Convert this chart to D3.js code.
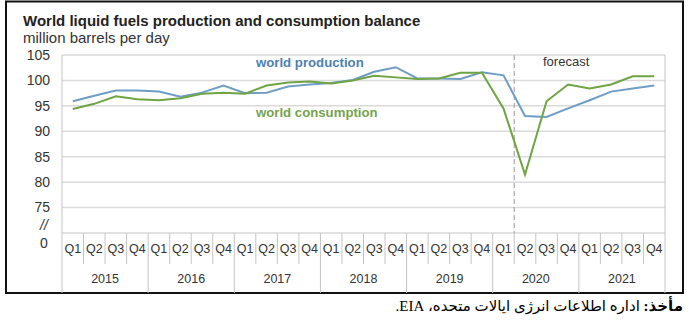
<!DOCTYPE html>
<html>
<head>
<meta charset="utf-8">
<script src="https://cdn.jsdelivr.net/npm/d3@7"></script>
<style>
  body { margin: 0; background: #fff; }
  svg { display: block; font-family: "Liberation Sans", Arial, sans-serif; }
  .grid line { stroke: #dadada; stroke-width: 1.5; }
  .tbl { stroke: #c4c4c4; stroke-width: 1; }
  .tick-label { fill: #333; font-size: 14px; }
  .cat-label { fill: #333; font-size: 12.5px; }
</style>
</head>
<body>
<div id="chart"></div>
<script>
// --- World liquid fuels production and consumption balance (EIA) ---

const years = ['2015', '2016', '2017', '2018', '2019', '2020', '2021'];
const quarters = ['Q1', 'Q2', 'Q3', 'Q4'];
const yTicks = [75, 80, 85, 90, 95, 100, 105];
const forecastStart = '2020 Q2';

// million barrels per day, one value per quarter 2015Q1..2021Q4
const production = [
  95.9, 97.0, 98.0, 98.0,
  97.8, 96.8, 97.6, 99.0,
  97.5, 97.6, 98.8, 99.2,
  99.5, 100.1, 101.7, 102.6,
  100.4, 100.4, 100.3, 101.6,
  101.0, 93.0, 92.8, 94.5,
  96.1, 97.8, 98.4, 99.0
];
const consumption = [
  94.4, 95.4, 96.9, 96.3,
  96.1, 96.5, 97.4, 97.6,
  97.4, 99.0, 99.6, 99.8,
  99.4, 100.0, 100.9, 100.6,
  100.3, 100.4, 101.5, 101.5,
  94.5, 81.5, 95.9, 99.2,
  98.4, 99.2, 100.8, 100.8
];

const W = 689, H = 324;
const plot = { left: 62, right: 665, top: 55, bottom: 233 };
const qRowBottom = 264, yearRowBottom = 293;

const keys = [];
years.forEach(y => quarters.forEach(q => keys.push(`${y} ${q}`)));

const svg = d3.select('#chart').append('svg')
  .attr('width', W)
  .attr('height', H);

svg.append('rect')
  .attr('width', W).attr('height', H).attr('fill', '#fff');

// outer frame
svg.append('rect')
  .attr('x', 6).attr('y', 1.5)
  .attr('width', 677).attr('height', yearRowBottom - 1.5)
  .attr('fill', 'none')
  .attr('stroke', '#111')
  .attr('stroke-width', 2);

const xScale = d3.scaleBand().domain(keys).range([plot.left, plot.right]).padding(0);
const xMid = k => xScale(k) + xScale.bandwidth() / 2;
const yScale = d3.scaleLinear().domain([70, 105]).range([plot.bottom, plot.top]);

// gridlines
svg.append('g').attr('class', 'grid')
  .selectAll('line').data(yTicks).join('line')
  .attr('x1', plot.left).attr('x2', plot.right)
  .attr('y1', d => yScale(d)).attr('y2', d => yScale(d));

// plot side borders
svg.append('line').attr('class', 'tbl')
  .attr('x1', plot.left).attr('x2', plot.left)
  .attr('y1', yScale(105)).attr('y2', yearRowBottom);
svg.append('line').attr('class', 'tbl')
  .attr('x1', plot.right).attr('x2', plot.right)
  .attr('y1', yScale(105)).attr('y2', yearRowBottom);

// y tick labels
svg.append('g').selectAll('text').data(yTicks).join('text')
  .attr('class', 'tick-label')
  .attr('x', 50).attr('y', d => yScale(d))
  .attr('dy', '0.35em')
  .attr('text-anchor', 'end')
  .text(d => d);

// axis break + zero
svg.append('text').attr('class', 'tick-label')
  .attr('x', 44).attr('y', yScale(70) - 8).attr('dy', '0.35em')
  .attr('text-anchor', 'middle').attr('font-style', 'italic').attr('font-size', 12)
  .text('//');
svg.append('text').attr('class', 'tick-label')
  .attr('x', 44).attr('y', yScale(70) + 10).attr('dy', '0.35em')
  .attr('text-anchor', 'middle')
  .text('0');

// category table
svg.append('line').attr('class', 'tbl')
  .attr('x1', plot.left).attr('x2', plot.right)
  .attr('y1', plot.bottom).attr('y2', plot.bottom);

svg.append('g').selectAll('line').data(keys.slice(1)).join('line')
  .attr('class', 'tbl')
  .attr('x1', d => xScale(d)).attr('x2', d => xScale(d))
  .attr('y1', plot.bottom)
  .attr('y2', d => d.endsWith('Q1') ? yearRowBottom : qRowBottom);

svg.append('g').selectAll('text').data(keys).join('text')
  .attr('class', 'cat-label')
  .attr('x', d => xMid(d)).attr('y', (plot.bottom + qRowBottom) / 2)
  .attr('dy', '0.35em')
  .attr('text-anchor', 'middle')
  .text(d => d.split(' ')[1]);

svg.append('g').selectAll('text').data(years).join('text')
  .attr('class', 'cat-label')
  .attr('font-size', 13)
  .attr('x', y => (xScale(`${y} Q1`) + xScale(`${y} Q4`) + xScale.bandwidth()) / 2)
  .attr('y', (qRowBottom + yearRowBottom) / 2)
  .attr('dy', '0.35em')
  .attr('text-anchor', 'middle')
  .text(y => y);

// forecast divider
svg.append('line')
  .attr('x1', xScale(forecastStart)).attr('x2', xScale(forecastStart))
  .attr('y1', yScale(105)).attr('y2', plot.bottom)
  .attr('stroke', '#a8a8a8')
  .attr('stroke-width', 1.2)
  .attr('stroke-dasharray', '5,3');

svg.append('text')
  .attr('x', 543).attr('y', 66)
  .attr('font-size', 13).attr('fill', '#333')
  .text('forecast');

// series
const lineGen = vals => d3.line()
  .x((d, i) => xMid(keys[i]))
  .y(d => yScale(d))(vals);

svg.append('path')
  .attr('d', lineGen(production))
  .attr('fill', 'none')
  .attr('stroke', '#6f9dc6')
  .attr('stroke-width', 2);

svg.append('path')
  .attr('d', lineGen(consumption))
  .attr('fill', 'none')
  .attr('stroke', '#6ea443')
  .attr('stroke-width', 2);

svg.append('text')
  .attr('x', 256).attr('y', 67)
  .attr('font-size', 13.2).attr('font-weight', 'bold').attr('fill', '#4d80b3')
  .text('world production');

svg.append('text')
  .attr('x', 256).attr('y', 117)
  .attr('font-size', 13.2).attr('font-weight', 'bold').attr('fill', '#76a34d')
  .text('world consumption');

// titles
svg.append('text')
  .attr('x', 23).attr('y', 26)
  .attr('font-size', 15).attr('font-weight', 'bold').attr('fill', '#222')
  .text('World liquid fuels production and consumption balance');

svg.append('text')
  .attr('x', 23).attr('y', 43)
  .attr('font-size', 15).attr('fill', '#333')
  .text('million barrels per day');

// source line (Persian)
const src = svg.append('text')
  .attr('x', 683).attr('y', 311)
  .attr('direction', 'rtl')
  .attr('text-anchor', 'start')
  .attr('font-family', '"Liberation Serif", "DejaVu Serif", "DejaVu Sans", serif')
  .attr('font-size', 15)
  .attr('fill', '#000');
src.append('tspan').attr('font-weight', 'bold').text('مأخذ:');
src.append('tspan').text(' اداره اطلاعات انرژی ایالات متحده، EIA.');
</script>
</body>
</html>
